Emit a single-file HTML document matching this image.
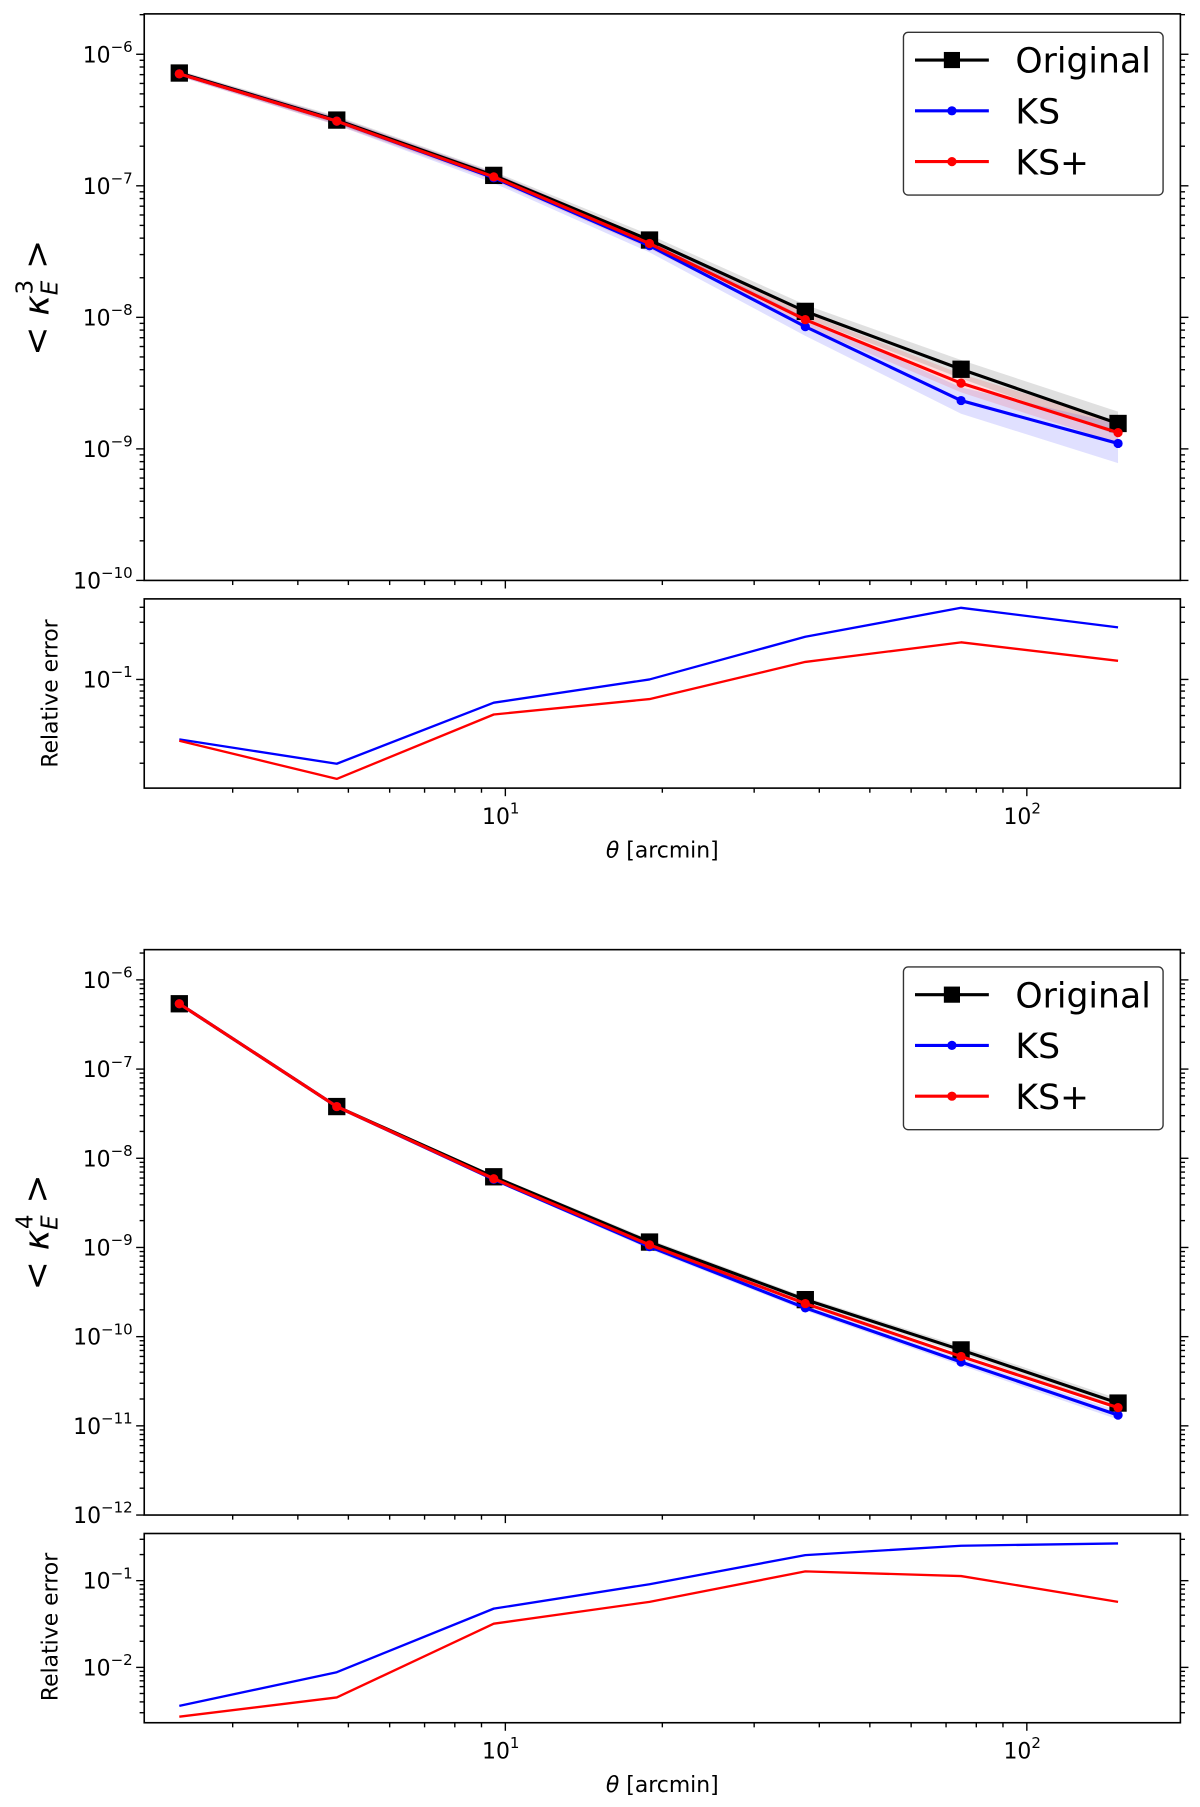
<!DOCTYPE html>
<html><head><meta charset="utf-8"><style>html,body{margin:0;padding:0;background:#fff}svg{display:block}text{font-family:"DejaVu Sans","Liberation Sans",sans-serif}</style></head>
<body>
<svg id="fig" xmlns="http://www.w3.org/2000/svg" width="1200" height="1807" viewBox="0 0 1040 1566"></svg>
<script>
// ---- data ----
const theta = [2.37, 4.75, 9.5, 18.9, 37.6, 74.8, 149.6];
const k3Original = [7.2e-7, 3.16e-7, 1.2e-7, 3.87e-8, 1.11e-8, 4.03e-9, 1.56e-9];
const k3KS = [7.1e-7, 3.1e-7, 1.15e-7, 3.5e-8, 8.5e-9, 2.33e-9, 1.1e-9];
const k3KSp = [7.1e-7, 3.1e-7, 1.17e-7, 3.64e-8, 9.6e-9, 3.16e-9, 1.33e-9];
const k3OrigSpread = [0.02, 0.03, 0.03, 0.04, 0.05, 0.07, 0.09];
const k3KSSpread = [0.02, 0.03, 0.04, 0.05, 0.07, 0.1, 0.15];
const k3KSpSpread = [0.02, 0.03, 0.03, 0.04, 0.05, 0.07, 0.08];
const k4Original = [5.4e-7, 3.8e-8, 6.2e-9, 1.15e-9, 2.6e-10, 7.1e-11, 1.8e-11];
const k4KS = [5.4e-7, 3.8e-8, 5.8e-9, 1.02e-9, 2.1e-10, 5.2e-11, 1.32e-11];
const k4KSp = [5.4e-7, 3.8e-8, 5.9e-9, 1.07e-9, 2.35e-10, 6.0e-11, 1.6e-11];
const k4Spread = [0.02, 0.02, 0.02, 0.03, 0.03, 0.04, 0.05];
const rel3KS = [0.0316, 0.0198, 0.064, 0.1, 0.227, 0.396, 0.272];
const rel3KSp = [0.0308, 0.0148, 0.051, 0.0686, 0.14, 0.204, 0.143];
const rel4KS = [0.0036, 0.0088, 0.0476, 0.091, 0.197, 0.253, 0.269];
const rel4KSp = [0.0027, 0.0045, 0.0319, 0.057, 0.128, 0.113, 0.057];
const xTickLabels = ["1", "2"];

const NS = "http://www.w3.org/2000/svg";
const svg = document.getElementById('fig');
function mk(tag, attrs, parent) {
  const e = document.createElementNS(NS, tag);
  for (const k in attrs) e.setAttribute(k, attrs[k]);
  (parent || svg).appendChild(e);
  return e;
}
const X0 = 125, X1 = 1023, XMIN = Math.log10(2.03), XMAX = Math.log10(197);
function xs(v) { return X0 + (Math.log10(v) - XMIN) / (XMAX - XMIN) * (X1 - X0); }

function makeAxes(name, top, bottom, lmin, lmax, majors, minorsOn) {
  const g = mk('g', {});
  
  
  const ys = v => bottom - (Math.log10(v) - lmin) / (lmax - lmin) * (bottom - top);
  for (let d = 0; d <= 2; d++) for (let m = 1; m <= 9; m++) {
    const v = m * Math.pow(10, d);
    if (v < Math.pow(10, XMIN) || v > Math.pow(10, XMAX)) continue;
    const x = xs(v), len = m === 1 ? 7 : 4;
    const t = mk('line', {x1: x, x2: x, y1: bottom, y2: bottom + len, stroke: '#000', 'stroke-width': 1.2}, g);
    
    
  }
  for (let d = Math.floor(lmin); d <= Math.ceil(lmax); d++) for (let m = 1; m <= 9; m++) {
    if (m > 1 && !minorsOn) continue;
    const v = m * Math.pow(10, d), lv = Math.log10(v);
    if (lv < lmin - 1e-6 || lv > lmax + 1e-6) continue;
    const y = ys(v), len = m === 1 ? 7 : 4;
    mk('line', {x1: X0 - len, x2: X0, y1: y, y2: y, stroke: '#000', 'stroke-width': 1.2}, g);
    mk('line', {x1: X1, x2: X1 + len, y1: y, y2: y, stroke: '#000', 'stroke-width': 1.2}, g);
  }
  majors.forEach(p => {
    const y = ys(Math.pow(10, p));
    const t = mk('text', {x: X0 - 10, y: y + 7, 'text-anchor': 'end', 'font-size': 19}, g);
    
    
    t.textContent = '10';
    const s = mk('tspan', {dy: -9, 'font-size': 13}, t);
    s.textContent = '\u2212' + (-p);
  });
  const fr = mk('rect', {x: X0, y: top, width: X1 - X0, height: bottom - top, fill: 'none', stroke: '#000', 'stroke-width': 1.4}, g);
  
  
  return ys;
}
function band(ys, vals, spread, color, name) {
  let pts = theta.map((t, i) => xs(t) + ',' + ys(vals[i] * Math.pow(10, spread[i])));
  pts = pts.concat(theta.map((t, i) => xs(t) + ',' + ys(vals[i] / Math.pow(10, spread[i]))).reverse());
  const p = mk('polygon', {points: pts.join(' '), fill: color, 'fill-opacity': 0.12, stroke: 'none'});
  
  
}
function series(ys, vals, color, marker, name, width) {
  const g = mk('g', {});
  
  
  mk('polyline', {points: theta.map((t, i) => xs(t) + ',' + ys(vals[i])).join(' '), fill: 'none', stroke: color, 'stroke-width': width || 2.7, 'stroke-linejoin': 'round'}, g);
  theta.forEach((t, i) => {
    if (marker === 'sq') mk('rect', {x: xs(t) - 7.5, y: ys(vals[i]) - 7.5, width: 15, height: 15, fill: color}, g);
    else if (marker === 'dot') mk('circle', {cx: xs(t), cy: ys(vals[i]), r: 4, fill: color}, g);
  });
}
function xlabels(bottom) {
  xTickLabels.forEach(p => {
    const x = xs(Math.pow(10, +p));
    const t = mk('text', {x: x - 4, y: bottom + 31, 'text-anchor': 'middle', 'font-size': 19});
    
    
    t.textContent = '10';
    const s = mk('tspan', {dy: -9, 'font-size': 13}, t);
    s.textContent = p;
  });
  const t = mk('text', {x: 574, y: bottom + 60, 'text-anchor': 'middle', 'font-size': 19});
  
  
  t.innerHTML = '<tspan font-style="italic">θ</tspan> [arcmin]';
}
function ylabel(x, y, html, size, name) {
  const t = mk('text', {x: 0, y: 0, transform: `translate(${x},${y}) rotate(-90)`, 'text-anchor': 'middle', 'font-size': size});
  
  
  t.innerHTML = html;
}
function legend(top) {
  const g = mk('g', {});
  
  
  mk('rect', {x: 783, y: top, width: 225, height: 141, rx: 4, fill: '#fff', stroke: '#333', 'stroke-width': 1.2}, g);
  [['Original', '#000', 'sq'], ['KS', '#0000ff', 'dot'], ['KS+', '#ff0000', 'dot']].forEach((e, i) => {
    const y = top + 24 + i * 44;
    const eg = mk('g', {}, g);
    
    
    mk('line', {x1: 793, x2: 857, y1: y, y2: y, stroke: e[1], 'stroke-width': 2.7}, eg);
    if (e[2] === 'sq') mk('rect', {x: 818, y: y - 7, width: 14, height: 14, fill: e[1]}, eg);
    else mk('circle', {cx: 825, cy: y, r: 4, fill: e[1]}, eg);
    const t = mk('text', {x: 880, y: y + 11, 'font-size': 30}, eg);
    t.textContent = e[0];
  });
}

// panel 1
let ys = makeAxes('k3-axes', 12, 503, -10, -5.693, [-6, -7, -8, -9, -10], true);
band(ys, k3Original, k3OrigSpread, '#000', 'k3-original-band');
band(ys, k3KS, k3KSSpread, '#0000ff', 'k3-ks-band');
band(ys, k3KSp, k3KSpSpread, '#ff0000', 'k3-ksplus-band');
series(ys, k3Original, '#000', 'sq', 'k3-original-line');
series(ys, k3KS, '#0000ff', 'dot', 'k3-ks-line');
series(ys, k3KSp, '#ff0000', 'dot', 'k3-ksplus-line');
legend(28);
ylabel(42, 258, '&lt; <tspan font-style="italic">κ</tspan><tspan font-size="20" font-style="italic" dy="8">E</tspan><tspan font-size="20" dx="-12" dy="-22">3</tspan><tspan dy="14"> &gt;</tspan>', 30, 'k3-y-axis-title');

ys = makeAxes('rel3-axes', 519, 683, Math.log10(0.0124), Math.log10(0.47), [-1], true);
series(ys, rel3KS, '#0000ff', null, 'rel3-ks-line', 2);
series(ys, rel3KSp, '#ff0000', null, 'rel3-ksplus-line', 2);
xlabels(683);
ylabel(50, 601, 'Relative error', 19, 'rel3-y-axis-title');

// panel 2
ys = makeAxes('k4-axes', 823, 1313, -12, -5.661, [-6, -7, -8, -9, -10, -11, -12], true);
band(ys, k4Original, k4Spread, '#000', 'k4-original-band');
band(ys, k4KS, k4Spread, '#0000ff', 'k4-ks-band');
series(ys, k4Original, '#000', 'sq', 'k4-original-line');
series(ys, k4KS, '#0000ff', 'dot', 'k4-ks-line');
series(ys, k4KSp, '#ff0000', 'dot', 'k4-ksplus-line');
legend(838);
ylabel(42, 1068, '&lt; <tspan font-style="italic">κ</tspan><tspan font-size="20" font-style="italic" dy="8">E</tspan><tspan font-size="20" dx="-12" dy="-22">4</tspan><tspan dy="14"> &gt;</tspan>', 30, 'k4-y-axis-title');

ys = makeAxes('rel4-axes', 1329, 1493, Math.log10(0.0023), Math.log10(0.35), [-1, -2], true);
series(ys, rel4KS, '#0000ff', null, 'rel4-ks-line', 2);
series(ys, rel4KSp, '#ff0000', null, 'rel4-ksplus-line', 2);
xlabels(1493);
ylabel(50, 1410, 'Relative error', 19, 'rel4-y-axis-title');
</script>
</body></html>
